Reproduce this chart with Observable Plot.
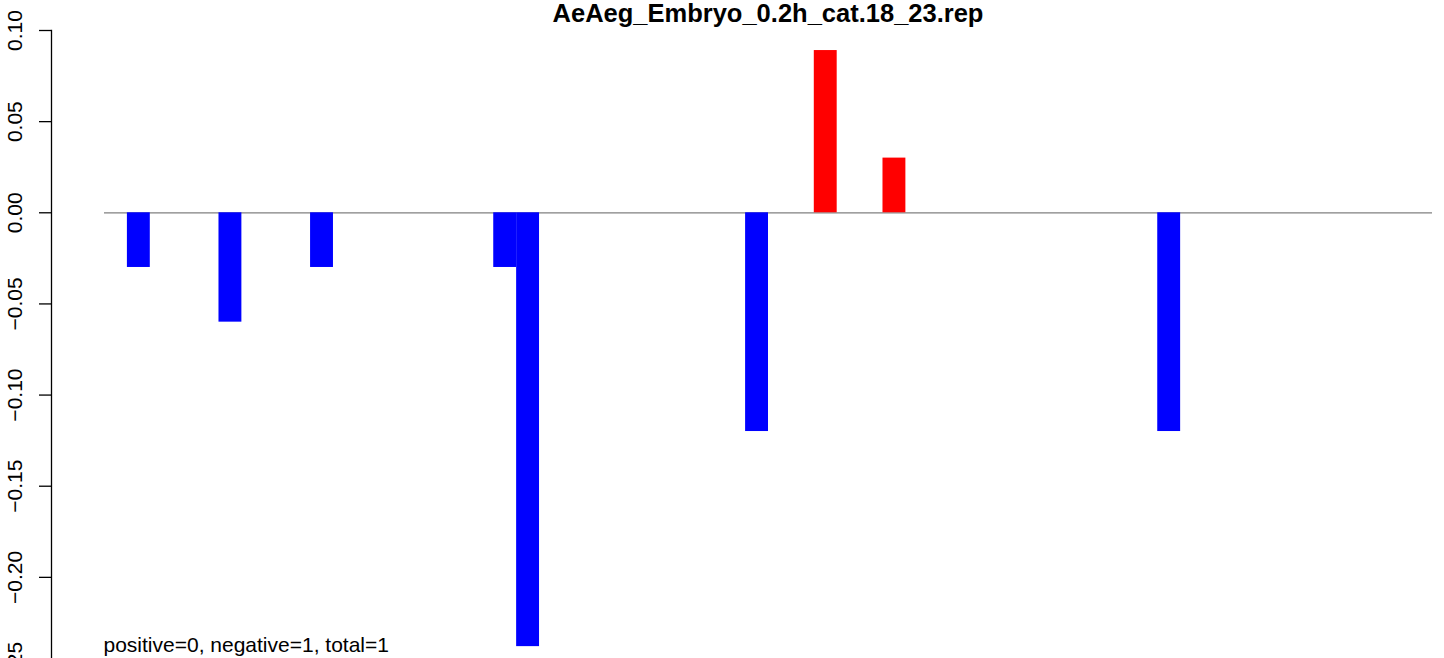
<!DOCTYPE html>
<html>
<head>
<meta charset="utf-8">
<script src="https://cdn.jsdelivr.net/npm/d3@7"></script>
<script src="https://cdn.jsdelivr.net/npm/@observablehq/plot@0.6"></script>
<style>
  html, body { margin: 0; padding: 0; background: #fff; overflow: hidden; }
  #chart svg { display: block; background: #fff; }
</style>
</head>
<body>
<div id="chart"></div>
<script>
const titleText = "AeAeg_Embryo_0.2h_cat.18_23.rep";
const noteText = "positive=0, negative=1, total=1";
const slotCount = 58;
const positions = [1, 5, 9, 17, 18, 28, 31, 34, 46];
const values = [-0.03, -0.06, -0.03, -0.03, -0.238, -0.12, 0.089, 0.03, -0.12];
const yTicks = [0.10, 0.05, 0.00, -0.05, -0.10, -0.15, -0.20, -0.25];
const yDomain = [-0.25, 0.10];

const data = positions.map((p, i) => ({pos: p, value: values[i], color: values[i] > 0 ? "#ff0000" : "#0000ff"}));
const font = "'Liberation Sans', Arial, Helvetica, sans-serif";

const chart = Plot.plot({
  width: 1444,
  height: 658,
  marginTop: 30,
  marginBottom: -10,
  marginLeft: 51,
  marginRight: 12,
  style: {fontFamily: font, fontSize: "21px", background: "#fff", color: "#000"},
  x: {domain: [0, slotCount], insetLeft: 53, axis: null},
  y: {domain: yDomain, label: null},
  color: {type: "identity"},
  marks: [
    Plot.ruleY([0], {stroke: "#808080", strokeWidth: 1.2, insetLeft: 53}),
    Plot.rectY(data, {x: "pos", interval: 1, y: "value", fill: "color", inset: 0}),
    Plot.frame({anchor: "left", stroke: "#000", strokeWidth: 1.3}),
    Plot.axisY({ticks: yTicks, tickSize: 12, tickRotate: -90, tickPadding: 18, label: null,
      tickFormat: d3.format(".2f"), fontSize: 21, stroke: "#000", strokeWidth: 1.3}),
    Plot.text([titleText], {frameAnchor: "top", dx: 26, dy: -17, fontSize: 25.5, fontWeight: "bold", lineAnchor: "middle"}),
    Plot.text([noteText], {frameAnchor: "bottom-left", dx: 52, dy: -17, textAnchor: "start", lineAnchor: "bottom", fontSize: 21})
  ]
});
document.getElementById("chart").appendChild(chart);
</script>
</body>
</html>
